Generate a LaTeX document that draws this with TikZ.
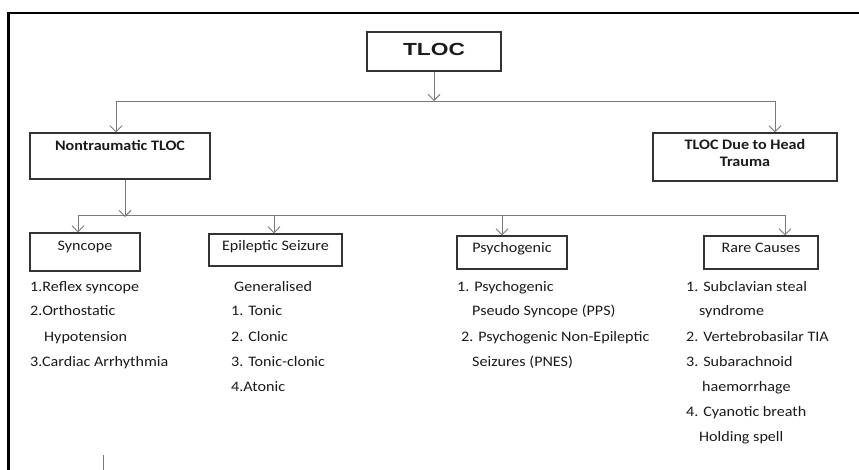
\documentclass[tikz,border=0pt]{standalone}
\usepackage{fontspec}
\setmainfont{Carlito}[FakeStretch=1.11]
\newfontfamily\titlefont{Liberation Sans}[FakeStretch=1.3]
\usetikzlibrary{arrows.meta}
\definecolor{lncol}{HTML}{7A7A7A}
\definecolor{boxcol}{HTML}{333333}
\definecolor{txtcol}{HTML}{1A1A1A}
\tikzset{
  box/.style={draw=boxcol, line width=1.3pt, inner sep=0pt},
  conn/.style={draw=lncol, line width=0.9pt},
  arr/.style={conn, -{Straight Barb[length=6pt,width=12pt]}},
  lbl/.style={inner sep=0pt, text=txtcol, font=\fontsize{14.5}{17}\selectfont},
  blbl/.style={lbl, font=\fontsize{14.5}{17}\selectfont\bfseries},
  item/.style={lbl, anchor=base west},
}
\begin{document}
\begin{tikzpicture}[x=1pt,y=-1pt]
\useasboundingbox (0,0) rectangle (859,470);
% frame
\draw[black, line width=2.6pt] (8.5,471) -- (8.5,13) -- (860,13);
\draw[lncol, line width=1pt] (103,455) -- (103,471);

% boxes
\node[box, minimum width=134pt, minimum height=39pt] (tloc) at (434,51.5) {};
\node[lbl, anchor=base, font=\titlefont\fontsize{17.5}{20}\selectfont\bfseries] (tloct) at (434,55.5) {TLOC};

\node[box, minimum width=180pt, minimum height=46pt] (nt) at (120,156) {};
\node[blbl, anchor=base] (ntt) at (120,150.5) {Nontraumatic TLOC};

\node[box, minimum width=184pt, minimum height=48pt] (head) at (745,157) {};
\node[blbl, anchor=base] (headt1) at (745,150) {TLOC Due to Head};
\node[blbl, anchor=base] (headt2) at (745,167) {Trauma};

\node[box, minimum width=110pt, minimum height=38pt] (syn) at (85,252) {};
\node[lbl, anchor=base] (synt) at (85,250.5) {Syncope};

\node[box, minimum width=133pt, minimum height=32pt] (epi) at (275.5,250) {};
\node[lbl, anchor=base] (epit) at (275.5,250.5) {Epileptic Seizure};

\node[box, minimum width=110pt, minimum height=33pt] (psy) at (512,252.5) {};
\node[lbl, anchor=base] (psyt) at (512,252.5) {Psychogenic};

\node[box, minimum width=114pt, minimum height=33pt] (rare) at (761,252.5) {};
\node[lbl, anchor=base] (raret) at (761,252.5) {Rare Causes};

% connectors level 1
\coordinate (hL) at (116,101);
\coordinate (hR) at (775,101);
\draw[conn] (hL) -- (hR);
\draw[arr] (tloc.south) -- (tloc.south |- hL);
\draw[arr] (hL) -- (hL |- nt.north);
\draw[arr] (hR) -- (hR |- head.north);

% connectors level 2
\coordinate (gL) at (78,215);
\coordinate (gR) at (785,215);
\coordinate (gE) at (274,215);
\coordinate (gP) at (502,215);
\draw[conn] (gL) -- (gR);
\draw[arr] ([xshift=5pt]nt.south) -- ([xshift=5pt,yshift=-2pt]nt.south |- gL);
\draw[arr] (gL) -- (gL |- syn.north);
\draw[arr] (gE) -- (gE |- epi.north);
\draw[arr] (gP) -- (gP |- psy.north);
\draw[arr] (gR) -- (gR |- rare.north);

% lists
\node[item] (s1) at (30,291) {1.Reflex syncope};
\node[item] (s2) at (30,316) {2.Orthostatic};
\node[item] (s3) at (44,341) {Hypotension};
\node[item] (s4) at (30,366) {3.Cardiac Arrhythmia};

\node[item] (e0) at (234,291) {Generalised};
\node[item] (e1) at (231,316) {1. Tonic};
\node[item] (e2) at (231,341) {2. Clonic};
\node[item] (e3) at (231,366) {3. Tonic-clonic};
\node[item] (e4) at (231,391) {4.Atonic};

\node[item] (p1) at (457,291) {1. Psychogenic};
\node[item] (p2) at (472,316) {Pseudo Syncope (PPS)};
\node[item] (p3) at (461,341) {2. Psychogenic Non-Epileptic};
\node[item] (p4) at (472,366) {Seizures (PNES)};

\node[item] (r1) at (686,291) {1. Subclavian steal};
\node[item] (r2) at (699,316) {syndrome};
\node[item] (r3) at (686,341) {2. Vertebrobasilar TIA};
\node[item] (r4) at (686,366) {3. Subarachnoid};
\node[item] (r5) at (702,391) {haemorrhage};
\node[item] (r6) at (686,416) {4. Cyanotic breath};
\node[item] (r7) at (699,441) {Holding spell};
\end{tikzpicture}
\end{document}
